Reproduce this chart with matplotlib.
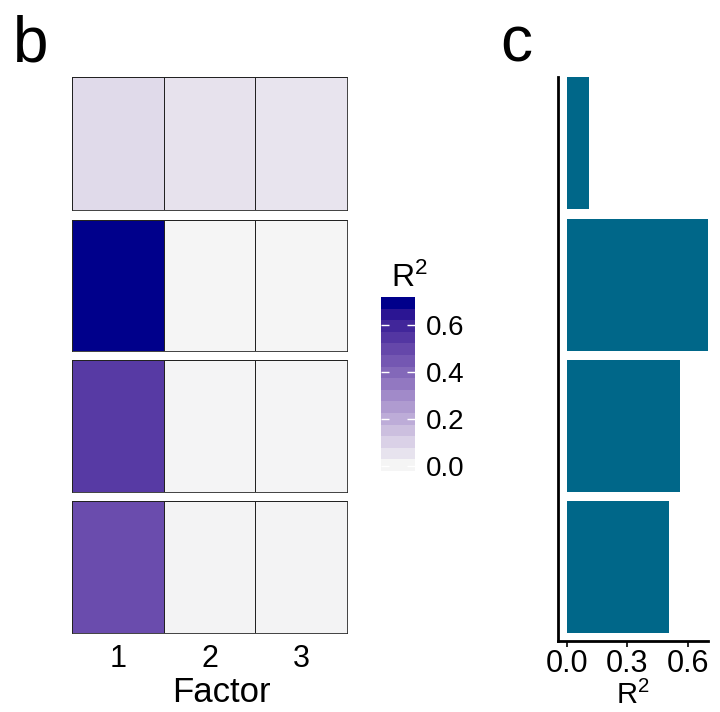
import numpy as np
import matplotlib
matplotlib.use("Agg")
import matplotlib.pyplot as plt
from matplotlib.colors import ListedColormap, Normalize
from matplotlib.cm import ScalarMappable

plt.rcParams["font.family"] = ["Liberation Sans", "DejaVu Sans"]
plt.rcParams["mathtext.fontset"] = "custom"
plt.rcParams["mathtext.rm"] = "Liberation Sans"
plt.rcParams["mathtext.it"] = "Liberation Sans"

# ---- data ----
factors = ["1", "2", "3"]
row1_r2 = [0.06, 0.035, 0.03]
row2_r2 = [0.72, -0.02, -0.02]
row3_r2 = [0.55, -0.015, -0.015]
row4_r2 = [0.49, -0.012, -0.012]
heat_rows = [row1_r2, row2_r2, row3_r2, row4_r2]
total_r2 = [0.11, 0.70, 0.56, 0.505]
bar_ticks = [0.0, 0.3, 0.6]
cbar_ticks = [0.0, 0.2, 0.4, 0.6]
bar_color = "#006789"


# ---- Lab-interpolated gradient (light grey -> dark blue) ----
def _to_lab(hexc):
    rgb = np.array([int(hexc[i:i + 2], 16) / 255 for i in (1, 3, 5)])
    lin = np.where(rgb <= 0.04045, rgb / 12.92, ((rgb + 0.055) / 1.055) ** 2.4)
    M = np.array([[0.4124, 0.3576, 0.1805],
                  [0.2126, 0.7152, 0.0722],
                  [0.0193, 0.1192, 0.9505]])
    xyz = M @ lin / np.array([0.95047, 1.0, 1.08883])
    d = 6 / 29
    f = np.where(xyz > d ** 3, np.cbrt(xyz), xyz / (3 * d * d) + 4 / 29)
    return np.array([116 * f[1] - 16, 500 * (f[0] - f[1]), 200 * (f[1] - f[2])])


def _from_lab(lab):
    L, a, b = lab
    fy = (L + 16) / 116
    fx = fy + a / 500
    fz = fy - b / 200
    d = 6 / 29
    f = np.array([fx, fy, fz])
    xyz = np.where(f > d, f ** 3, 3 * d * d * (f - 4 / 29)) * np.array([0.95047, 1.0, 1.08883])
    Minv = np.array([[3.2406, -1.5372, -0.4986],
                     [-0.9689, 1.8758, 0.0415],
                     [0.0557, -0.2040, 1.0570]])
    lin = np.clip(Minv @ xyz, 0, 1)
    rgb = np.where(lin <= 0.0031308, 12.92 * lin, 1.055 * lin ** (1 / 2.4) - 0.055)
    return np.clip(rgb, 0, 1)


lo, hi = _to_lab("#F5F5F5"), _to_lab("#00008B")
cmap = ListedColormap([_from_lab(lo + t * (hi - lo)) for t in np.linspace(0, 1, 256)])

all_vals = np.array(heat_rows)
norm = Normalize(vmin=all_vals.min(), vmax=all_vals.max())

W, H = 720, 712
fig = plt.figure(figsize=(W / 100, H / 100), dpi=100)


def px_axes(l, r, t, b):
    return fig.add_axes([l / W, 1 - b / H, (r - l) / W, (b - t) / H])


# ---- panel b: faceted heatmap ----
row_spans = [(77, 210), (220, 351), (360, 492), (501, 633)]
for i, (vals, (t, b)) in enumerate(zip(heat_rows, row_spans)):
    ax = px_axes(72, 347, t, b)
    ax.pcolormesh(np.arange(4), [0, 1], np.array([vals]), cmap=cmap, norm=norm,
                  edgecolors="#222222", linewidth=0.6)
    ax.set_xlim(0, 3)
    ax.set_ylim(0, 1)
    ax.set_yticks([])
    for s in ax.spines.values():
        s.set_linewidth(0.6)
        s.set_color("#222222")
    if i == len(heat_rows) - 1:
        ax.set_xticks(np.arange(3) + 0.5)
        ax.set_xticklabels(factors, fontsize=22)
        ax.tick_params(axis="x", length=0, pad=8)
    else:
        ax.set_xticks([])

fig.text(221 / W, 1 - 692 / H, "Factor", fontsize=25, ha="center", va="center")
fig.text(13 / W, 1 - 61 / H, "b", fontsize=46, ha="left", va="baseline")
fig.text(500 / W, 1 - 61 / H, "c", fontsize=46, ha="left", va="baseline")

# ---- colour legend ----
cax = px_axes(381, 415, 297, 471)
sm = ScalarMappable(norm=norm, cmap=cmap.resampled(15))
cb = fig.colorbar(sm, cax=cax, ticks=cbar_ticks)
cb.outline.set_visible(False)
cb.ax.set_yticklabels([f"{v:.1f}" for v in cbar_ticks], fontsize=20)
cb.ax.tick_params(direction="in", length=6, width=1, color="white",
                  left=True, right=True, labelleft=False, labelright=True, pad=8)
fig.text(391 / W, 1 - 287 / H, r"R$^{2}$", fontsize=23, ha="left", va="baseline")

# ---- panel c: total R2 bars ----
bx = px_axes(558, 708, 77, 641)
pos = np.arange(len(total_r2))[::-1]
bx.barh(pos, total_r2, height=0.935, color=bar_color, left=0)
bx.set_ylim(-0.525, len(total_r2) - 0.53)
bx.set_xlim(-0.045, 0.70)
bx.set_yticks([])
bx.set_xticks(bar_ticks)
bx.set_xticklabels([f"{v:.1f}" for v in bar_ticks], fontsize=22)
bx.tick_params(axis="x", length=4, width=1.2, pad=2)
for side in ("top", "right"):
    bx.spines[side].set_visible(False)
for side in ("left", "bottom"):
    bx.spines[side].set_linewidth(2)
bx.set_xlabel(r"R$^{2}$", fontsize=21, labelpad=1)

fig.savefig("out.png", dpi=100)
